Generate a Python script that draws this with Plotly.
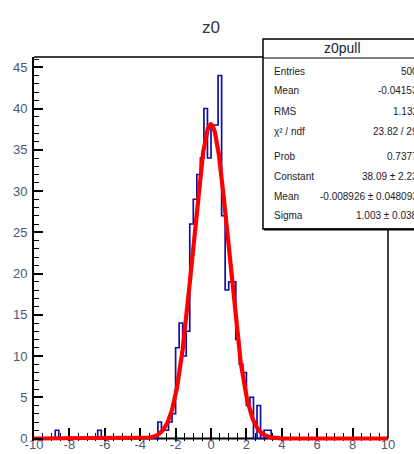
import numpy as np
import plotly.graph_objects as go

# ---------------- data ----------------
x_min, x_max = -10.0, 10.0
bin_width = 0.2
bin_lo = [-8.8, -6.4, -3.0, -2.8, -2.6, -2.4, -2.2, -2.0, -1.8, -1.6, -1.4,
          -1.2, -1.0, -0.8, -0.6, -0.4, -0.2, 0.0, 0.2, 0.4, 0.6, 0.8, 1.0,
          1.2, 1.4, 1.6, 1.8, 2.0, 2.2, 2.4, 2.6, 2.8, 3.0, 3.2]
counts = [1, 1, 2, 1, 1, 2, 3, 11, 14, 10, 13,
          26, 29, 32, 34, 40, 34, 38, 38, 44, 27, 18, 19,
          19, 12, 9, 8, 4, 5, 0, 4, 0, 1, 1]

fit_constant = 38.09
fit_mean = -0.008926
fit_sigma = 1.003

x_ticks = [-10, -8, -6, -4, -2, 0, 2, 4, 6, 8, 10]
y_ticks = [0, 5, 10, 15, 20, 25, 30, 35, 40, 45]

hist_title = "z0"
stats_title = "z0pull"
stats_labels = ["Entries", "Mean", "RMS", "χ² / ndf", "Prob", "Constant", "Mean", "Sigma"]
stats_values = ["500", "-0.04153", "1.132", "23.82 / 29", "0.7377",
                "38.09 ± 2.23", "-0.008926 ± 0.048093", "1.003 ± 0.038"]

# ---------------- build histogram ----------------
nbins = int(round((x_max - x_min) / bin_width))
h = np.zeros(nbins)
for lo, c in zip(bin_lo, counts):
    h[int(round((lo - x_min) / bin_width))] = c
edges = x_min + bin_width * np.arange(nbins + 1)
step_y = np.append(h, h[-1])

fx = np.linspace(x_min, x_max, 1000)
fy = fit_constant * np.exp(-0.5 * ((fx - fit_mean) / fit_sigma) ** 2)

# ---------------- geometry (pixels) ----------------
W, H = 414, 454
PL, PR, PT, PB = 34, 388, 57, 441
zero_px = 438.5
y_scale = 8.25  # px per count
y_lo = -(PB - zero_px) / y_scale
y_hi = (PB - PT) / y_scale + y_lo


def xp(p):
    return (p - PL) / (PR - PL)


def yp(p):
    return (PB - p) / (PB - PT)


font_narrow = "Liberation Sans Narrow, Arial Narrow, Liberation Sans, Arial, sans-serif"
tick_color = "#4d5578"
text_color = "#1a1a2a"

fig = go.Figure()
fig.add_trace(go.Scatter(x=edges, y=step_y, mode="lines", line_shape="hv",
                         line=dict(color="#1010a0", width=1.7),
                         hoverinfo="skip", showlegend=False))
fig.add_trace(go.Scatter(x=fx, y=fy, mode="lines",
                         line=dict(color="#ff0000", width=4.2),
                         hoverinfo="skip", showlegend=False))

shapes = [
    dict(type="line", xref="x", yref="y", x0=x_min, x1=x_max, y0=0, y1=0,
         line=dict(color="black", width=2), layer="below"),
    dict(type="line", xref="paper", yref="paper", x0=0, x1=1, y0=1, y1=1,
         line=dict(color="black", width=1.5)),
    dict(type="line", xref="paper", yref="paper", x0=1, x1=1, y0=yp(zero_px), y1=1,
         line=dict(color="black", width=1.5)),
    dict(type="rect", xref="paper", yref="paper", x0=xp(263), x1=xp(422),
         y0=yp(229), y1=yp(39), line=dict(color="black", width=1.5),
         fillcolor="white", layer="above"),
    dict(type="line", xref="paper", yref="paper", x0=xp(263), x1=xp(422),
         y0=yp(58), y1=yp(58), line=dict(color="black", width=1.2), layer="above"),
    dict(type="line", xref="paper", yref="paper", x0=xp(264), x1=xp(422),
         y0=yp(229.5), y1=yp(229.5), line=dict(color="black", width=2), layer="above"),
]

annotations = [
    dict(text=hist_title, xref="paper", yref="paper", x=xp(211), y=yp(27),
         showarrow=False, xanchor="center", yanchor="middle",
         font=dict(family=font_narrow, size=17, color="#333344")),
    dict(text=stats_title, xref="paper", yref="paper", x=xp(342), y=yp(48),
         showarrow=False, xanchor="center", yanchor="middle",
         font=dict(family=font_narrow, size=14, color="#222233")),
]
row_y = [71, 91, 111, 131, 156, 176, 196, 215]
for lab, val, ry in zip(stats_labels, stats_values, row_y):
    annotations.append(dict(text=lab, xref="paper", yref="paper", x=xp(272), y=yp(ry),
                            showarrow=False, xanchor="left", yanchor="middle",
                            font=dict(family=font_narrow, size=10, color=text_color)))
    annotations.append(dict(text=val, xref="paper", yref="paper", x=xp(420), y=yp(ry),
                            showarrow=False, xanchor="right", yanchor="middle",
                            font=dict(family=font_narrow, size=10, color=text_color)))

fig.update_layout(
    width=W, height=H,
    margin=dict(l=PL, r=W - PR, t=PT, b=H - PB, pad=0, autoexpand=False),
    paper_bgcolor="white", plot_bgcolor="white",
    shapes=shapes, annotations=annotations,
    showlegend=False,
)
fig.update_xaxes(range=[x_min, x_max], tickvals=x_ticks, ticktext=[str(v) for v in x_ticks],
                 ticks="inside", ticklen=13, tickwidth=1.5, tickcolor="black",
                 minor=dict(dtick=0.5, tick0=0, ticks="inside", ticklen=8,
                            tickwidth=1.2, tickcolor="black", showgrid=False),
                 showgrid=False, zeroline=False, showline=False, automargin=False,
                 layer="below traces", ticklabelstandoff=-6,
                 tickfont=dict(family=font_narrow, size=13, color=tick_color))
fig.update_yaxes(range=[y_lo, y_hi], tickvals=y_ticks, ticktext=[str(v) for v in y_ticks],
                 ticks="inside", ticklen=9, tickwidth=1.5, tickcolor="black",
                 minor=dict(dtick=1, tick0=0, ticks="inside", ticklen=5,
                            tickwidth=1.2, tickcolor="black", showgrid=False),
                 showgrid=False, zeroline=False, showline=True, linecolor="black",
                 linewidth=2, ticklabelstandoff=2, automargin=False,
                 tickfont=dict(family=font_narrow, size=13, color=tick_color))

fig.write_html("out.html")
